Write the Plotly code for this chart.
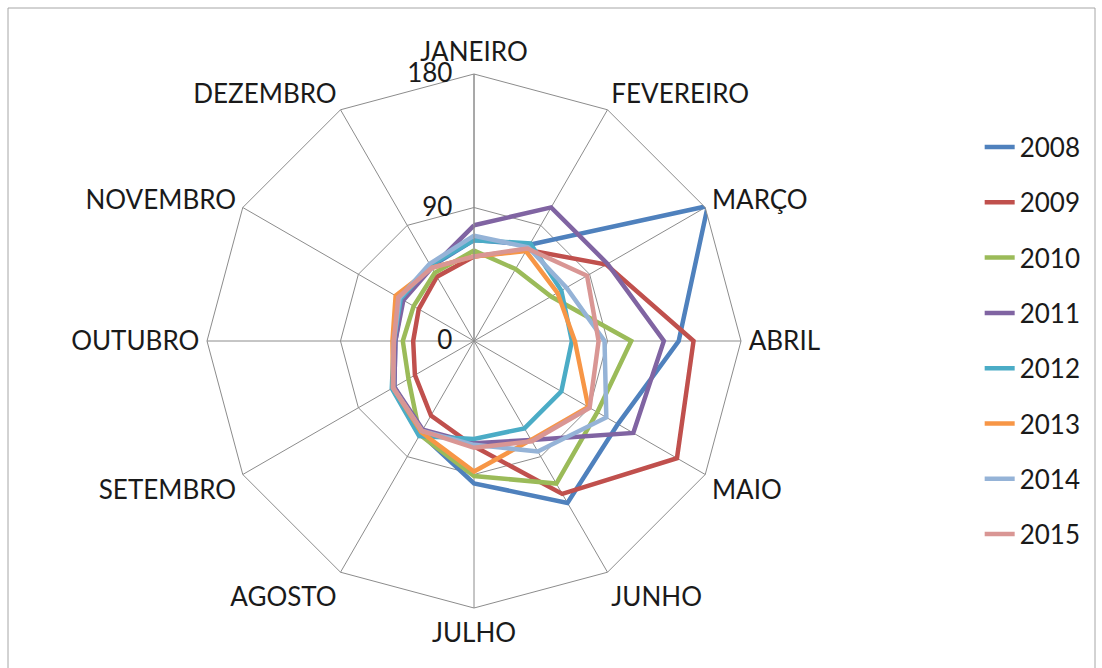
import plotly.graph_objects as go

# Monthly values per year, read clockwise from January
months = ["JANEIRO", "FEVEREIRO", "MARÇO", "ABRIL", "MAIO", "JUNHO",
          "JULHO", "AGOSTO", "SETEMBRO", "OUTUBRO", "NOVEMBRO", "DEZEMBRO"]

y2008 = [68, 75, 182, 138, 112, 126, 96, 72, 62, 53, 56, 58]
y2009 = [57, 71, 103, 148, 158, 119, 71, 58, 46, 41, 43, 50]
y2010 = [61, 56, 60, 106, 96, 111, 91, 73, 51, 48, 47, 53]
y2011 = [78, 104, 104, 128, 124, 77, 69, 69, 62, 53, 55, 57]
y2012 = [68, 76, 68, 66, 68, 68, 66, 74, 64, 54, 57, 59]
y2013 = [57, 70, 65, 68, 89, 77, 88, 71, 63, 55, 61, 57]
y2014 = [71, 73, 72, 88, 103, 86, 70, 70, 63, 54, 58, 60]
y2015 = [57, 72, 88, 84, 90, 78, 72, 70, 63, 54, 59, 57]

years = ["2008", "2009", "2010", "2011", "2012", "2013", "2014", "2015"]
series = [y2008, y2009, y2010, y2011, y2012, y2013, y2014, y2015]
colors = ["#4F81BD", "#C0504D", "#9BBB59", "#8064A2",
          "#4BACC6", "#F79646", "#95B3D7", "#D99694"]

radial_ticks = [0, 90, 180]

FONT = "Lato"
GRID = "#8C8C8C"
TEXT = "#1a1a1a"

fig = go.Figure()
for name, vals, col in zip(years, series, colors):
    fig.add_trace(go.Scatterpolar(
        r=vals + vals[:1],
        theta=months + months[:1],
        mode="lines",
        name=name,
        legendgroup=name,
        line=dict(color=col, width=4.5),
        cliponaxis=False,
        hoverinfo="skip",
    ))

W, H = 1102, 668
cx, cy, R = 474, 341, 267

fig.update_layout(
    width=W, height=H,
    margin=dict(l=0, r=0, t=0, b=0),
    paper_bgcolor="white",
    plot_bgcolor="white",
    font=dict(family=FONT, size=26, color=TEXT),
    polar=dict(
        domain=dict(x=[(cx - R) / W, (cx + R) / W],
                    y=[(H - cy - R) / H, (H - cy + R) / H]),
        gridshape="linear",
        bgcolor="white",
        angularaxis=dict(
            type="category",
            categoryarray=months,
            direction="clockwise",
            rotation=90,
            showline=True, linecolor=GRID, linewidth=1,
            showgrid=True, gridcolor=GRID, gridwidth=1,
            ticks="outside", ticklen=2, tickcolor="rgba(0,0,0,0)",
            tickfont=dict(family=FONT, size=26, color=TEXT),
        ),
        radialaxis=dict(
            range=[0, 180],
            tickvals=radial_ticks,
            angle=90,
            tickangle=90,
            side="counterclockwise",
            ticks="outside", ticklen=12, tickcolor="rgba(0,0,0,0)",
            tickfont=dict(family=FONT, size=26, color=TEXT),
            showline=True, linecolor=GRID, linewidth=1,
            showgrid=True, gridcolor=GRID, gridwidth=1,
        ),
    ),
    legend=dict(
        x=0.889, y=0.815, xanchor="left", yanchor="top",
        font=dict(family=FONT, size=26, color=TEXT),
        tracegroupgap=18.5,
        bgcolor="rgba(0,0,0,0)",
    ),
    shapes=[dict(type="rect", xref="paper", yref="paper",
                 x0=8 / W, x1=1095 / W, y0=-0.02, y1=1 - 8 / H,
                 line=dict(color="#A6A6A6", width=1))],
)

fig.write_html("out.html")
